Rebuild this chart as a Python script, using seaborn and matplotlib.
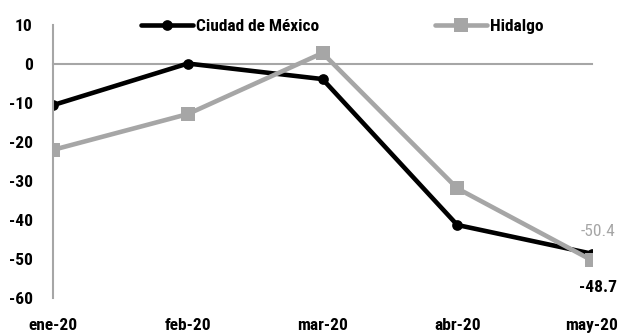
import matplotlib
matplotlib.use("Agg")
import matplotlib.pyplot as plt
import seaborn as sns
import pandas as pd

months = ["ene-20", "feb-20", "mar-20", "abr-20", "may-20"]
cdmx = [-10.5, 0.2, -3.8, -41.3, -48.7]
hidalgo = [-22.0, -12.8, 2.9, -31.9, -50.4]
series_names = ["Ciudad de México", "Hidalgo"]
yticks = [10, 0, -10, -20, -30, -40, -50, -60]

sns.set_theme(style="white")
FAM = ["Roboto Condensed", "DejaVu Sans"]
plt.rcParams["font.family"] = FAM
FS = 12.5

df = pd.DataFrame({
    "x": list(range(len(months))) * 2,
    "valor": cdmx + hidalgo,
    "serie": [series_names[0]] * len(months) + [series_names[1]] * len(months),
})

fig = plt.figure(figsize=(6.23, 3.35), dpi=100)
ax = fig.add_axes([53 / 623, 1 - 297.7 / 335, (592 - 53) / 623, (297.7 - 25.4) / 335])

black = "#000000"
gray = "#A6A6A6"
sns.lineplot(data=df, x="x", y="valor", hue="serie", style="serie",
             palette={series_names[0]: black, series_names[1]: gray},
             markers={series_names[0]: "o", series_names[1]: "s"},
             dashes=False, linewidth=3.3, markersize=7.7, markeredgewidth=0,
             ax=ax, legend=True, sort=False)
for ln in ax.lines:
    if ln.get_marker() == "s":
        ln.set_markersize(9.5)

h, l = ax.get_legend_handles_labels()
if ax.get_legend() is not None:
    ax.get_legend().remove()

ax.set_xlim(0, len(months) - 1)
ax.set_ylim(-60, 10)
ax.set_yticks(yticks)
ax.set_yticklabels([str(v) for v in yticks])
ax.set_xticks(range(len(months)))
ax.set_xticklabels(months)
ax.set_xlabel("")
ax.set_ylabel("")

for s in ["top", "right"]:
    ax.spines[s].set_visible(False)
ax.spines["left"].set_color(gray)
ax.spines["left"].set_linewidth(1.5)
ax.spines["bottom"].set_position(("data", 0))
ax.spines["bottom"].set_color(gray)
ax.spines["bottom"].set_linewidth(1.5)
ax.spines["bottom"].set_zorder(0)
ax.tick_params(axis="y", direction="out", length=4.5, width=1.5, color=gray, pad=10,
               labelcolor="black", labelsize=FS)
ax.tick_params(axis="x", direction="out", length=4.5, width=1.5, color=gray, pad=178,
               labelcolor="black", labelsize=FS)
for t in ax.get_xticklabels() + ax.get_yticklabels():
    t.set_fontweight("bold")

ax.annotate(f"{hidalgo[-1]:.1f}", (len(months) - 1, hidalgo[-1]), xytext=(4, 20.5),
            textcoords="offset points", ha="center", va="center",
            fontsize=FS, color=gray, annotation_clip=False)
ax.annotate(f"{cdmx[-1]:.1f}", (len(months) - 1, cdmx[-1]), xytext=(4, -24),
            textcoords="offset points", ha="center", va="center",
            fontsize=FS, fontweight="bold", color=black, annotation_clip=False)

leg = fig.legend(h, l, loc="center left", bbox_to_anchor=(141 / 623, 1 - 26 / 335), ncol=2, frameon=False,
                 handlelength=3.0, columnspacing=6.7, handletextpad=0.15, borderpad=0, borderaxespad=0,
                 prop={"size": FS, "weight": "bold", "family": FAM})
for t in leg.get_texts():
    t.set_color("black")

fig.savefig("out.png", dpi=100)
